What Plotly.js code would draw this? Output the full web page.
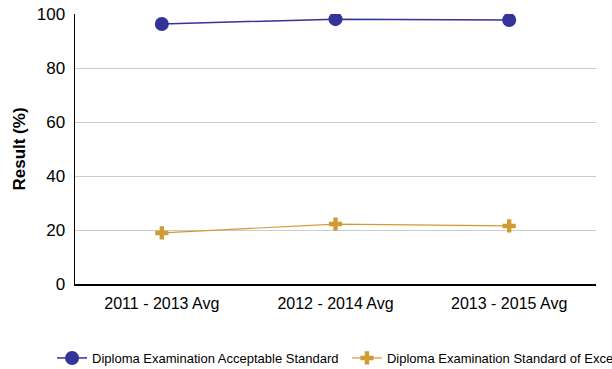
<!DOCTYPE html>
<html>
<head>
<meta charset="utf-8">
<script src="https://cdn.plot.ly/plotly-3.0.1.min.js"></script>
<style>html,body{margin:0;padding:0;background:#fff;overflow:hidden;}#chart{width:720px;height:400px;}</style>
</head>
<body>
<div id="chart"></div>
<script>
const categories = ["2011 - 2013 Avg", "2012 - 2014 Avg", "2013 - 2015 Avg"];
const acceptableValues = [96.3, 98.1, 97.8];
const excellenceValues = [18.9, 22.2, 21.5];
const seriesNames = ["Diploma Examination Acceptable Standard", "Diploma Examination Standard of Excellence"];
const yTickValues = [0, 20, 40, 60, 80, 100];

const FONT = "Liberation Sans, Arial, sans-serif";

const traces = [
  {
    x: categories, y: acceptableValues, name: seriesNames[0],
    type: "scatter", mode: "lines+markers",
    line: {color: "#333399", width: 1.5},
    marker: {color: "#333399", size: 14, symbol: "circle"},
    legend: "legend"
  },
  {
    x: categories, y: excellenceValues, name: seriesNames[1],
    type: "scatter", mode: "lines+markers",
    line: {color: "#D19B33", width: 1.2},
    marker: {color: "#D19B33", size: 11, symbol: "cross"},
    legend: "legend2"
  }
];

const layout = {
  width: 720, height: 400,
  margin: {l: 75, r: 124, t: 14, b: 116},
  paper_bgcolor: "#fff", plot_bgcolor: "#fff",
  font: {family: FONT, color: "#000"},
  showlegend: true,
  xaxis: {
    type: "category", range: [-0.5, 2.5],
    showgrid: false, showline: true, linecolor: "#000", linewidth: 1.5,
    ticks: "", ticklabelstandoff: 4, tickfont: {size: 16, color: "#000", family: FONT},
    fixedrange: true
  },
  yaxis: {
    range: [0, 100], tickvals: yTickValues,
    showgrid: true, gridcolor: "#cccccc", gridwidth: 1,
    zeroline: false, showline: true, linecolor: "#000", linewidth: 1.5,
    ticks: "", ticklabelstandoff: 5,
    tickfont: {size: 17, color: "#000", family: FONT},
    title: {text: "<b>Result (%)</b>", font: {size: 17, color: "#000", family: FONT}, standoff: 7},
    fixedrange: true
  },
  legend: {
    orientation: "h", x: -0.044, xanchor: "left", y: -0.274, yanchor: "middle",
    font: {size: 13, color: "#000", family: FONT}, bgcolor: "rgba(0,0,0,0)"
  },
  legend2: {
    orientation: "h", x: 0.522, xanchor: "left", y: -0.274, yanchor: "middle",
    font: {size: 13, color: "#000", family: FONT}, bgcolor: "rgba(0,0,0,0)"
  }
};

Plotly.newPlot("chart", traces, layout, {displayModeBar: false, staticPlot: true});
</script>
</body>
</html>
